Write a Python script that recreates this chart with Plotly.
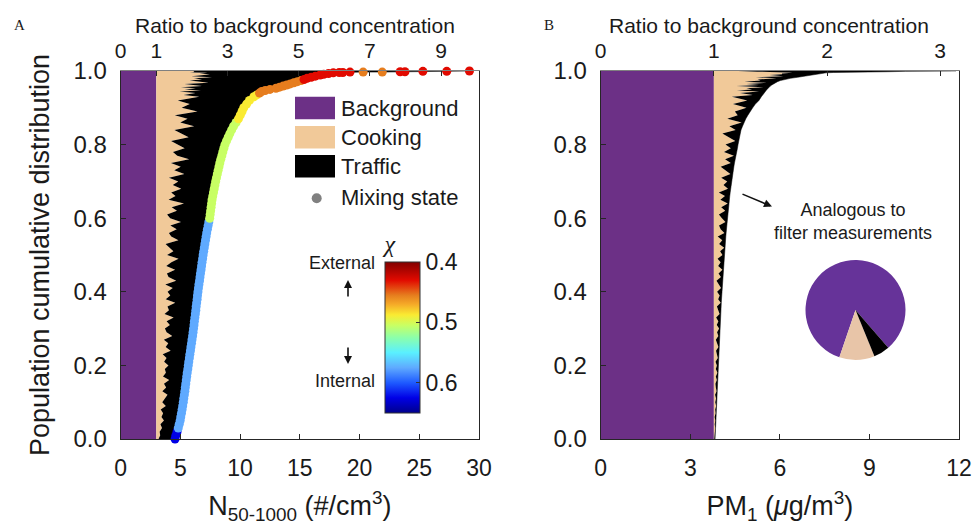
import plotly.graph_objects as go

W, H = 975, 529

# ---------------- data ----------------
# population cumulative fraction (rank) shared by both panels
cum_frac = [
    0.00, 0.01, 0.02, 0.03, 0.04, 0.05, 0.06, 0.07, 0.08, 0.09,
    0.10, 0.11, 0.12, 0.13, 0.14, 0.15, 0.16, 0.17, 0.18, 0.19,
    0.20, 0.21, 0.22, 0.23, 0.24, 0.25, 0.26, 0.27, 0.28, 0.29,
    0.30, 0.31, 0.32, 0.33, 0.34, 0.35, 0.36, 0.37, 0.38, 0.39,
    0.40, 0.41, 0.42, 0.43, 0.44, 0.45, 0.46, 0.47, 0.48, 0.49,
    0.50, 0.51, 0.52, 0.53, 0.54, 0.55, 0.56, 0.57, 0.58, 0.59,
    0.60, 0.61, 0.62, 0.63, 0.64, 0.65, 0.66, 0.67, 0.68, 0.69,
    0.70, 0.71, 0.72, 0.73, 0.74, 0.75, 0.76, 0.77, 0.78, 0.79,
    0.80, 0.81, 0.82, 0.83, 0.84, 0.85, 0.86, 0.87, 0.88, 0.89,
    0.90, 0.91, 0.92, 0.93,
    0.935, 0.940, 0.944, 0.947, 0.950, 0.953, 0.956, 0.959, 0.962, 0.965,
    0.968, 0.971, 0.974, 0.977, 0.980, 0.983, 0.986, 0.989, 0.991, 0.993, 0.995,
    0.996, 0.996, 0.997, 0.997, 0.997, 0.998, 0.998, 0.999, 0.999, 1.000,
]

# Panel A: N50-1000 (#/cm3)
bg_n = 2.98
total_n = [
    4.55, 4.62, 4.72, 4.82, 4.90, 4.98, 5.03, 5.09, 5.14, 5.19,
    5.24, 5.28, 5.33, 5.37, 5.41, 5.45, 5.49, 5.53, 5.57, 5.62,
    5.66, 5.70, 5.75, 5.79, 5.84, 5.88, 5.93, 5.97, 6.02, 6.06,
    6.10, 6.14, 6.17, 6.21, 6.25, 6.29, 6.32, 6.36, 6.40, 6.43,
    6.47, 6.51, 6.55, 6.60, 6.64, 6.68, 6.73, 6.77, 6.81, 6.86,
    6.90, 6.95, 7.00, 7.05, 7.10, 7.15, 7.20, 7.26, 7.32, 7.38,
    7.45, 7.49, 7.53, 7.57, 7.61, 7.65, 7.71, 7.77, 7.83, 7.89,
    7.95, 8.02, 8.09, 8.16, 8.23, 8.30, 8.38, 8.47, 8.55, 8.64,
    8.73, 8.86, 9.00, 9.14, 9.29, 9.45, 9.66, 9.86, 10.01, 10.16,
    10.30, 10.54, 10.78, 11.15,
    11.40, 11.62, 11.80, 12.10, 12.50, 13.00, 13.30, 13.60, 13.90, 14.20,
    14.50, 14.80, 15.10, 15.35, 15.60, 15.95, 16.30, 16.70, 17.00, 17.40, 17.80,
    18.3, 18.6, 19.2, 20.3, 21.9, 23.4, 23.8, 25.3, 27.3, 29.2,
]
# cooking share of the non-background part (panel A)
cook_share_n = [
    0.12, 0.20, 0.16, 0.26, 0.18, 0.32, 0.21, 0.27, 0.17, 0.36,
    0.22, 0.30, 0.40, 0.21, 0.34, 0.26, 0.43, 0.22, 0.31, 0.27,
    0.38, 0.24, 0.31, 0.19, 0.42, 0.27, 0.34, 0.21, 0.44, 0.28,
    0.23, 0.36, 0.27, 0.45, 0.21, 0.32, 0.28, 0.47, 0.23, 0.34,
    0.27, 0.39, 0.21, 0.46, 0.28, 0.24, 0.42, 0.22, 0.33, 0.48,
    0.23, 0.36, 0.28, 0.19, 0.45, 0.30, 0.25, 0.40, 0.27, 0.47,
    0.26, 0.20, 0.38, 0.28, 0.50, 0.22, 0.34, 0.26, 0.43, 0.28,
    0.37, 0.21, 0.46, 0.29, 0.39, 0.23, 0.51, 0.32, 0.25, 0.42,
    0.31, 0.21, 0.45, 0.34, 0.24, 0.49, 0.30, 0.38, 0.22, 0.48,
    0.29, 0.37, 0.23, 0.44,
    0.27, 0.38, 0.22, 0.41, 0.25, 0.33, 0.20, 0.36, 0.26, 0.21,
    0.38, 0.27, 0.23, 0.31, 0.25, 0.36, 0.22, 0.29, 0.32, 0.25, 0.29,
    0.20, 0.18, 0.19, 0.17, 0.17, 0.15, 0.15, 0.14, 0.13, 0.12,
]
chi = (
    [0.625, 0.625, 0.625]
    + [0.575] * 57
    + [0.505] * 27
    + [0.4875] * 7
    + [0.4875] + [0.455] * 12 + [0.43] * 8
    + [0.43, 0.43, 0.43, 0.455, 0.455, 0.43, 0.43, 0.43, 0.43, 0.43]
)

# Panel B: PM1 (ug/m3)
bg_pm = 3.79
total_pm = [
    3.830, 3.835, 3.840, 3.845, 3.850, 3.855, 3.860, 3.865, 3.870, 3.875,
    3.880, 3.885, 3.890, 3.895, 3.900, 3.905, 3.910, 3.915, 3.920, 3.925,
    3.930, 3.936, 3.942, 3.948, 3.954, 3.960, 3.966, 3.972, 3.978, 3.984,
    3.990, 3.997, 4.004, 4.011, 4.018, 4.025, 4.032, 4.039, 4.046, 4.053,
    4.060, 4.068, 4.076, 4.084, 4.092, 4.100, 4.108, 4.116, 4.124, 4.132,
    4.140, 4.150, 4.160, 4.170, 4.180, 4.190, 4.200, 4.210, 4.220, 4.230,
    4.240, 4.253, 4.266, 4.280, 4.294, 4.308, 4.322, 4.337, 4.352, 4.366,
    4.380, 4.400, 4.420, 4.440, 4.460, 4.480, 4.510, 4.535, 4.560, 4.580,
    4.600, 4.625, 4.650, 4.675, 4.700, 4.750, 4.800, 4.860, 4.930, 5.000,
    5.090, 5.180, 5.300, 5.380,
    5.42, 5.47, 5.51, 5.54, 5.57, 5.60, 5.64, 5.68, 5.73, 5.78,
    5.85, 5.92, 6.02, 6.15, 6.35, 6.60, 6.85, 7.00, 7.15, 7.35, 7.55,
    7.8, 7.9, 8.2, 8.5, 8.8, 9.2, 9.6, 10.2, 11.0, 11.9,
]
cook_share_pm = [
    0.40, 0.70, 0.50, 0.85, 0.45, 0.75, 0.35, 0.80, 0.55, 0.90,
    0.50, 0.78, 0.40, 0.88, 0.60, 0.45, 0.82, 0.52, 0.92, 0.48,
    0.72, 0.38, 0.86, 0.58, 0.44, 0.90, 0.62, 0.36, 0.80, 0.55,
    0.88, 0.47, 0.70, 0.34, 0.84, 0.60, 0.42, 0.92, 0.56, 0.74,
    0.40, 0.86, 0.62, 0.30, 0.78, 0.50, 0.90, 0.44, 0.68, 0.36,
    0.82, 0.58, 0.94, 0.46, 0.72, 0.32, 0.86, 0.54, 0.40, 0.88,
    0.60, 0.36, 0.80, 0.50, 0.92, 0.42, 0.70, 0.30, 0.84, 0.56,
    0.76, 0.40, 0.88, 0.62, 0.34, 0.82, 0.52, 0.90, 0.44, 0.72,
    0.48, 0.86, 0.60, 0.32, 0.80, 0.54, 0.92, 0.42, 0.70, 0.58,
    0.84, 0.46, 0.74, 0.38,
    0.80, 0.52, 0.88, 0.44, 0.72, 0.60, 0.90, 0.40, 0.78, 0.55,
    0.86, 0.48, 0.70, 0.62, 0.82, 0.50, 0.76, 0.58, 0.68, 0.64, 0.70,
    0.60, 0.50, 0.45, 0.40, 0.35, 0.30, 0.25, 0.20, 0.15, 0.10,
]

pie_labels = ["Background", "Cooking", "Traffic"]
pie_shares = [83.4, 11.4, 5.2]

ratio_ticks_a = [0, 1, 3, 5, 7, 9]
ratio_ticks_b = [0, 1, 2, 3]
n_ticks = [0, 5, 10, 15, 20, 25, 30]
pm_ticks = [0, 3, 6, 9, 12]
y_ticks = [0.0, 0.2, 0.4, 0.6, 0.8, 1.0]

# ---------------- style ----------------
PURPLE = "#6c3086"
TAN = "#f1c999"
BLACK = "#000000"
FONT = "Liberation Sans, Arial, Helvetica, sans-serif"
SERIF = "Liberation Serif, Times New Roman, serif"
AX = "#262626"

jet = [
    [0.00, "rgb(0,0,140)"],
    [0.10, "rgb(0,0,230)"],
    [0.20, "rgb(30,90,255)"],
    [0.30, "rgb(95,170,255)"],
    [0.40, "rgb(90,240,255)"],
    [0.50, "rgb(140,255,170)"],
    [0.58, "rgb(200,255,100)"],
    [0.65, "rgb(250,235,50)"],
    [0.72, "rgb(245,170,40)"],
    [0.78, "rgb(230,125,30)"],
    [0.88, "rgb(225,10,0)"],
    [1.00, "rgb(130,0,0)"],
]

def fx(px):
    return px / W

def fy(py):
    return 1 - py / H

xA = [fx(120.7), fx(479)]
xB = [fx(600.7), fx(959)]
yD = [fy(439), fy(71)]

cook_n = [bg_n + s * (t - bg_n) for s, t in zip(cook_share_n, total_n)]
cook_pm = [bg_pm + s * (t - bg_pm) for s, t in zip(cook_share_pm, total_pm)]

fig = go.Figure()

def stack(xa, ya, bg, cook, total):
    fig.add_trace(go.Scatter(x=[bg, bg], y=[0, 1], xaxis=xa, yaxis=ya, mode="lines",
                             line=dict(width=0, color=PURPLE), fill="tozerox",
                             fillcolor=PURPLE, hoverinfo="skip", showlegend=False))
    fig.add_trace(go.Scatter(x=cook, y=cum_frac, xaxis=xa, yaxis=ya, mode="lines",
                             line=dict(width=0, color=TAN), fill="tonextx",
                             fillcolor=TAN, hoverinfo="skip", showlegend=False))
    fig.add_trace(go.Scatter(x=total, y=cum_frac, xaxis=xa, yaxis=ya, mode="lines",
                             line=dict(width=0.5, color=BLACK), fill="tonextx",
                             fillcolor=BLACK, hoverinfo="skip", showlegend=False))

stack("x", "y", bg_n, cook_n, total_n)
stack("x2", "y2", bg_pm, cook_pm, total_pm)

# mixing-state markers
fig.add_trace(go.Scatter(
    x=total_n, y=cum_frac, xaxis="x", yaxis="y", mode="markers",
    marker=dict(size=9, color=[-c for c in chi], colorscale=jet, cmin=-0.65, cmax=-0.4,
                line=dict(width=0),
                colorbar=dict(
                    x=fx(385), xanchor="left", xpad=0,
                    y=fy(413), yanchor="bottom", ypad=0,
                    len=182 / H, lenmode="fraction",
                    thickness=35, thicknessmode="pixels",
                    outlinewidth=1, outlinecolor="#333",
                    tickvals=[-0.6, -0.5, -0.4], ticktext=["0.6", "0.5", "0.4"],
                    ticks="inside", ticklen=4, tickcolor="#333",
                    tickfont=dict(size=23, family=FONT, color="#1a1a1a"),
                    title=dict(text="<i>χ</i>", side="top",
                               font=dict(size=24, family=SERIF, color="#1a1a1a")),
                )),
    cliponaxis=False, hoverinfo="skip", showlegend=False))

# dummy traces so the top ratio axes are drawn
fig.add_trace(go.Scatter(x=[0], y=[0], xaxis="x3", yaxis="y", mode="markers",
                         marker=dict(opacity=0), hoverinfo="skip", showlegend=False))
fig.add_trace(go.Scatter(x=[0], y=[0], xaxis="x4", yaxis="y2", mode="markers",
                         marker=dict(opacity=0), hoverinfo="skip", showlegend=False))

# pie
fig.add_trace(go.Pie(values=pie_shares, labels=pie_labels, sort=False,
                     direction="counterclockwise", rotation=198.8,
                     marker=dict(colors=["#663399", "#e8c5a8", "#000000"], line=dict(width=0)),
                     textinfo="none", hoverinfo="skip", showlegend=False,
                     domain=dict(x=[fx(803), fx(908)], y=[fy(360), fy(260)])))

tick_common = dict(ticks="inside", ticklen=5, tickcolor=AX, showline=True, linecolor=AX,
                   linewidth=1, showgrid=False, zeroline=False, automargin=False)

fig.update_layout(
    width=W, height=H, margin=dict(l=0, r=0, t=0, b=0, autoexpand=False),
    paper_bgcolor="white", plot_bgcolor="white",
    font=dict(family=FONT, color="#1a1a1a"),
    xaxis=dict(domain=xA, anchor="y", range=[0, 30], tickvals=n_ticks,
               tickfont=dict(size=23), ticklabelstandoff=8,
               title=dict(text="N<sub>50-1000</sub> (#/cm<sup>3</sup>)", font=dict(size=27), standoff=16),
               **tick_common),
    yaxis=dict(domain=yD, anchor="x", range=[0, 1], tickvals=y_ticks, tickformat=".1f",
               tickfont=dict(size=24), ticklabelstandoff=8, mirror=True,
               title=dict(text="Population cumulative distribution", font=dict(size=27), standoff=16),
               **tick_common),
    xaxis3=dict(overlaying="x", side="top", anchor="y", range=[0, 30 / bg_n],
                tickvals=ratio_ticks_a, tickfont=dict(size=21), ticklabelstandoff=4,
                **{**tick_common, "linecolor": "#808080"}),
    xaxis2=dict(domain=xB, anchor="y2", range=[0, 12], tickvals=pm_ticks,
                tickfont=dict(size=23), ticklabelstandoff=8,
                title=dict(text="PM<sub>1</sub> (<i>μ</i>g/m<sup>3</sup>)", font=dict(size=27), standoff=16),
                **tick_common),
    yaxis2=dict(domain=yD, anchor="x2", range=[0, 1], tickvals=y_ticks, tickformat=".1f",
                tickfont=dict(size=24), ticklabelstandoff=8, mirror=True, **tick_common),
    xaxis4=dict(overlaying="x2", side="top", anchor="y2", range=[0, 12 / bg_pm],
                tickvals=ratio_ticks_b, tickfont=dict(size=21), ticklabelstandoff=4,
                **{**tick_common, "linecolor": "#808080"}),
)

ann = []
# panel letters and top titles
ann.append(dict(text="A", x=fx(19), y=fy(25), font=dict(size=15, family=SERIF)))
ann.append(dict(text="B", x=fx(549), y=fy(25), font=dict(size=15, family=SERIF)))
ann.append(dict(text="Ratio to background concentration", x=fx(295), y=fy(25), font=dict(size=21)))
ann.append(dict(text="Ratio to background concentration", x=fx(769), y=fy(25), font=dict(size=21)))
# legend
shapes = []
for (label, col, top) in [("Background", PURPLE, 96.7), ("Cooking", TAN, 126), ("Traffic", BLACK, 155)]:
    shapes.append(dict(type="rect", xref="paper", yref="paper", x0=fx(295), x1=fx(335),
                       y0=fy(top + 22.5), y1=fy(top), fillcolor=col, line=dict(width=0)))
    ann.append(dict(text=label, x=fx(339), y=fy(top + 11.5), xanchor="left", font=dict(size=22)))
shapes.append(dict(type="circle", xref="paper", yref="paper", x0=fx(311.7), x1=fx(321.7),
                   y0=fy(203.3), y1=fy(193.3), fillcolor="#808080", line=dict(width=0)))
ann.append(dict(text="Mixing state", x=fx(339), y=fy(197.5), xanchor="left", font=dict(size=22)))
# colorbar side labels
ann.append(dict(text="External", x=fx(377), y=fy(263), xanchor="right", font=dict(size=18)))
ann.append(dict(text="Internal", x=fx(377), y=fy(381), xanchor="right", font=dict(size=18)))
ann.append(dict(text="", x=fx(348), y=fy(280), showarrow=True, ax=0, ay=18,
                arrowhead=2, arrowsize=1, arrowwidth=1.6, arrowcolor="#111"))
ann.append(dict(text="", x=fx(348), y=fy(364), showarrow=True, ax=0, ay=-18,
                arrowhead=2, arrowsize=1, arrowwidth=1.6, arrowcolor="#111"))
# panel B annotation
ann.append(dict(text="Analogous to<br>filter measurements", x=fx(853), y=fy(221),
                font=dict(size=18), align="center"))
ann.append(dict(text="", x=fx(772), y=fy(206.5), showarrow=True, ax=-31, ay=-13,
                arrowhead=2, arrowsize=1, arrowwidth=1.6, arrowcolor="#111"))

for a in ann:
    a.setdefault("xref", "paper")
    a.setdefault("yref", "paper")
    a.setdefault("showarrow", False)
    a.setdefault("xanchor", "center")
    a.setdefault("yanchor", "middle")
fig.update_layout(annotations=ann, shapes=shapes)

fig.write_html("out.html", config={"displayModeBar": False},
               post_script="document.body.style.margin='0px';")
